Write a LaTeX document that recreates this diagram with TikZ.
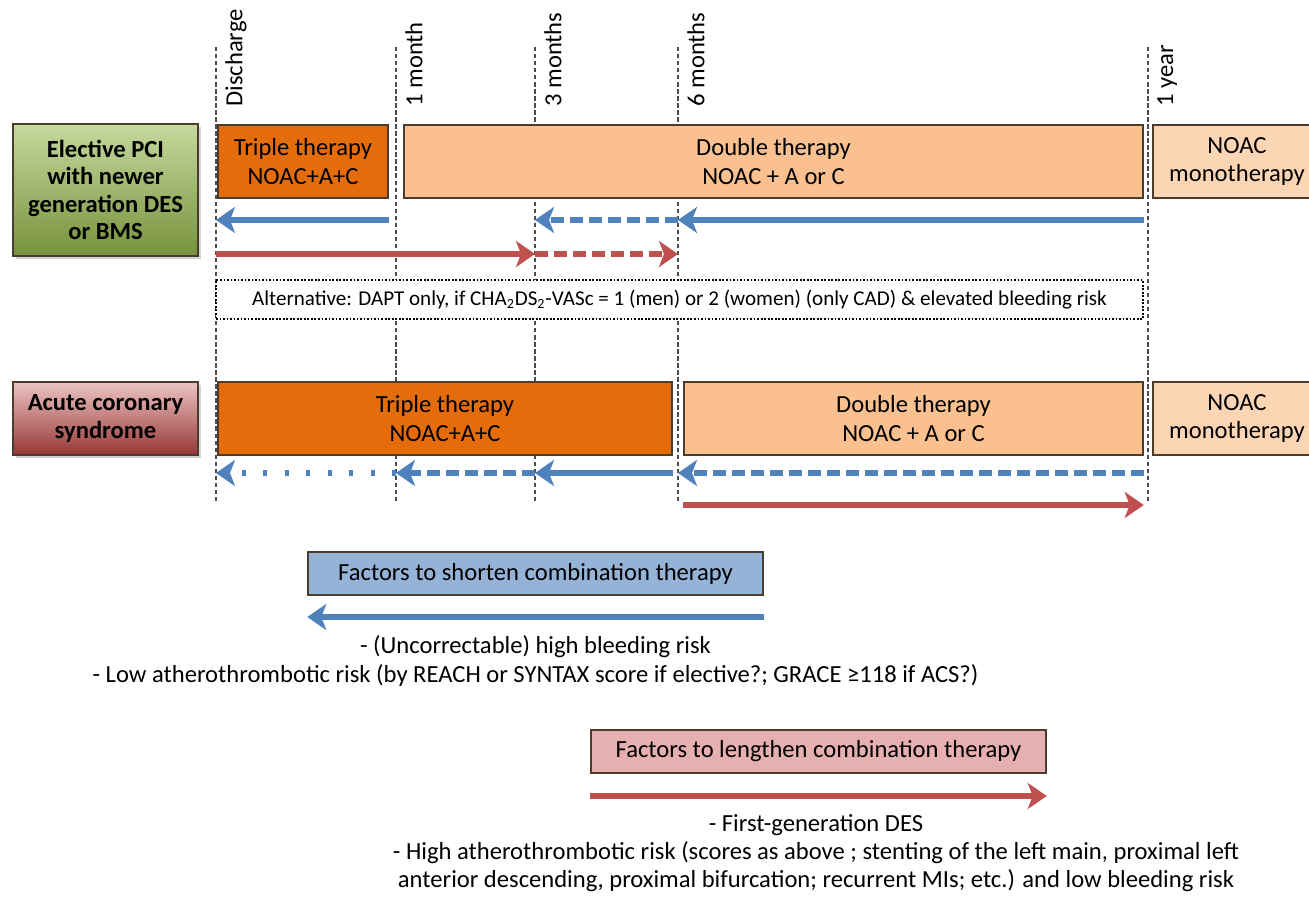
\documentclass[tikz,border=0pt]{standalone}
\usepackage{fontspec}
\setmainfont{Carlito}
\usetikzlibrary{arrows.meta,shadows}

\definecolor{tripleorange}{RGB}{228,108,10}
\definecolor{doubleorange}{RGB}{250,192,144}
\definecolor{monoorange}{RGB}{252,213,181}
\definecolor{boxedge}{RGB}{75,60,45}
\definecolor{arrowblue}{RGB}{79,129,189}
\definecolor{arrowred}{RGB}{192,80,77}
\definecolor{shortenblue}{RGB}{149,179,215}
\definecolor{lengthenred}{RGB}{230,176,176}

\begin{document}
\begin{tikzpicture}[x=0.02cm, y=-0.02cm,
    font=\fontsize{14}{16}\selectfont,
    time line/.style={gray!60!black, line width=0.6pt, dash pattern=on 2.5pt off 1.5pt},
    time label/.style={xshift=0.18cm, rotate=90, anchor=north west, inner sep=0pt},
    therapy box/.style={draw=boxedge, line width=0.9pt, minimum height=1.46cm, inner sep=2pt, align=center},
    patient box/.style={therapy box, font=\fontsize{14}{15.6}\selectfont\bfseries, minimum width=3.7cm,
        drop shadow={opacity=0.35, shadow xshift=0.06cm, shadow yshift=-0.06cm}},
    factor box/.style={draw=boxedge, line width=0.9pt, minimum width=9.1cm, minimum height=0.86cm},
    blue arrow/.style={arrowblue, line width=0.11cm, -{Stealth[length=0.38cm, width=0.52cm, inset=0.1cm]}},
    red arrow/.style={blue arrow, arrowred},
    dashed arrow/.style={dash pattern=on 0.26cm off 0.12cm},
    dotted arrow/.style={dash pattern=on 0.08cm off 0.35cm}]

    \clip (0,0) rectangle (1309,911);

    \coordinate (tD) at (216,0);
    \coordinate (t1) at (396,0);
    \coordinate (t3) at (535,0);
    \coordinate (t6) at (678,0);
    \coordinate (tY) at (1148,0);
    \coordinate (top) at (0,47);
    \coordinate (lab) at (0,107);
    \coordinate (bot) at (0,503);
    \coordinate (ra) at (0,220);
    \coordinate (rb) at (0,254);
    \coordinate (rc) at (0,473);
    \coordinate (rd) at (0,505);
    \coordinate (re) at (0,617);
    \coordinate (rf) at (0,796);

    \foreach \t/\l in {tD/Discharge, t1/1 month, t3/3 months, t6/6 months, tY/1 year}{
        \draw[time line] (\t |- top) -- (\t |- bot);
        \node[time label] (lab-\t) at (\t |- lab) {\l};
    }

    \node[patient box, minimum height=2.64cm, top color={rgb,255:red,198;green,217;blue,158}, bottom color={rgb,255:red,118;green,146;blue,60}] (elective) at (105.5,190) {Elective PCI\\with newer\\generation DES\\or BMS};
    \node[therapy box, fill=tripleorange, minimum width=3.4cm] (triple1) at (303,161.5) {Triple therapy\\NOAC+A+C};
    \node[therapy box, fill=doubleorange, minimum width=14.78cm] (double1) at (773.5,161.5) {Double therapy\\NOAC + A or C};
    \node[therapy box, fill=monoorange, minimum width=3.36cm] (mono1) at (1237,161.5) {NOAC\\monotherapy};

    \draw[blue arrow] (triple1.east |- ra) -- (tD |- ra);
    \draw[blue arrow, dashed arrow] (t6 |- ra) -- (t3 |- ra);
    \draw[blue arrow] (double1.east |- ra) -- (t6 |- ra);
    \draw[red arrow] (tD |- rb) -- (t3 |- rb);
    \draw[red arrow, dashed arrow] (t3 |- rb) -- (t6 |- rb);

    \node[draw, fill=white, line width=0.7pt, dash pattern=on 1pt off 1pt, minimum width=18.54cm, minimum height=0.78cm,
        font=\fontsize{12}{14}\selectfont] (alt) at (679.5,299.5)
        {Alternative: DAPT only, if CHA\textsubscript{2}DS\textsubscript{2}-VASc = 1 (men) or 2 (women) (only CAD) \& elevated bleeding risk};

    \node[patient box, top color={rgb,255:red,236;green,196;blue,195}, bottom color={rgb,255:red,150;green,55;blue,53}] (acs) at (105.5,418.5) {Acute coronary\\syndrome};
    \node[therapy box, fill=tripleorange, minimum width=9.08cm] (triple2) at (445,418.5) {Triple therapy\\NOAC+A+C};
    \node[therapy box, fill=doubleorange, minimum width=9.18cm] (double2) at (913.5,418.5) {Double therapy\\NOAC + A or C};
    \node[therapy box, fill=monoorange, minimum width=3.36cm] (mono2) at (1237,418.5) {NOAC\\monotherapy};

    \draw[blue arrow, dotted arrow] (t1 |- rc) -- (tD |- rc);
    \draw[blue arrow, dashed arrow] (t3 |- rc) -- (t1 |- rc);
    \draw[blue arrow] (triple2.east |- rc) -- (t3 |- rc);
    \draw[blue arrow, dashed arrow] (double2.east |- rc) -- (t6 |- rc);
    \draw[red arrow] (double2.west |- rd) -- (double2.east |- rd);

    \node[factor box, fill=shortenblue] (shorten) at (535.5,573.5) {Factors to shorten combination therapy};
    \draw[blue arrow] (shorten.east |- re) -- (shorten.west |- re);
    \node[align=center] (shorten text) at (535.5,661) {- (Uncorrectable) high bleeding risk\\- Low atherothrombotic risk (by REACH or SYNTAX score if elective?; GRACE ≥118 if ACS?)};

    \node[factor box, fill=lengthenred] (lengthen) at (818.5,751.5) {Factors to lengthen combination therapy};
    \draw[red arrow] (lengthen.west |- rf) -- (lengthen.east |- rf);
    \node[align=center] (lengthen text) at (816,853) {- First-generation DES\\- High atherothrombotic risk (scores as above ; stenting of the left main, proximal left\\anterior descending, proximal bifurcation; recurrent MIs; etc.) and low bleeding risk};
\end{tikzpicture}
\end{document}
